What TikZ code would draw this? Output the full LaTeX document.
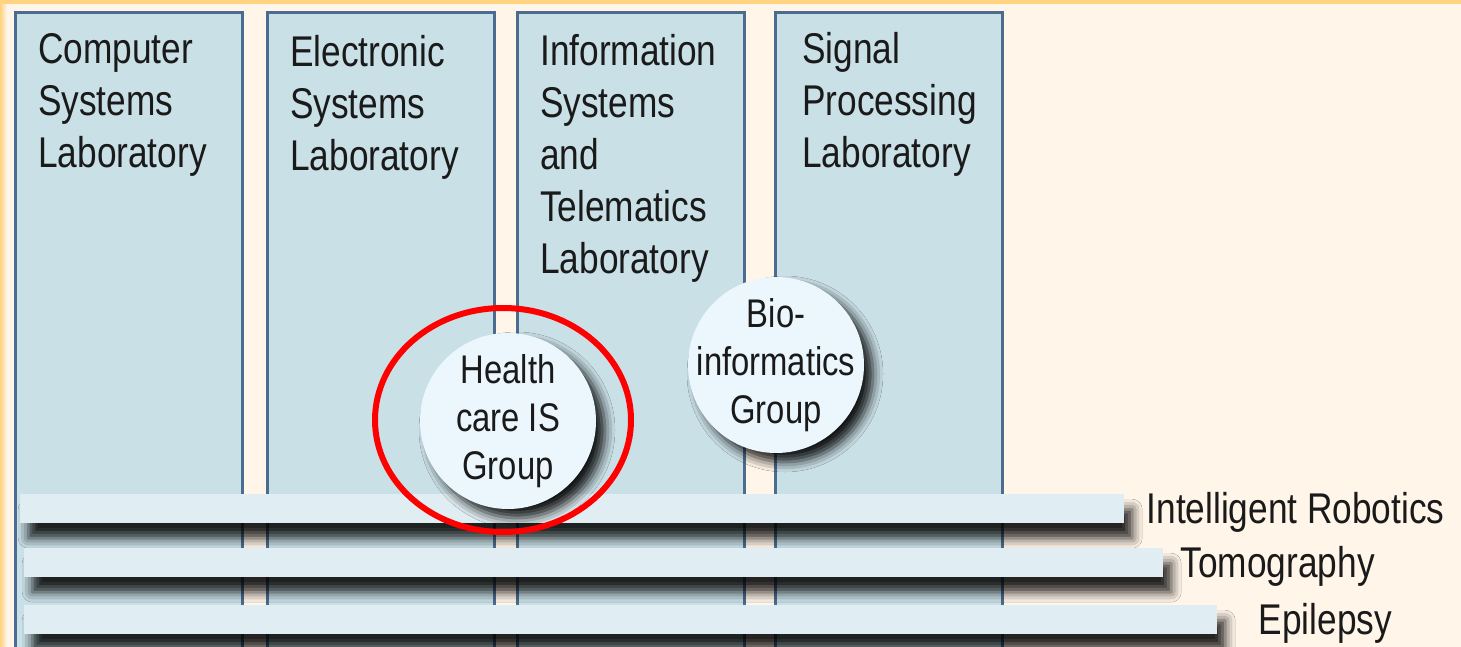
\documentclass[tikz,border=0pt]{standalone}
\usepackage{fontspec}
\setmainfont{Liberation Sans}[FakeStretch=0.82]
\usepackage{tikz}
\usetikzlibrary{positioning,shapes.geometric,shadows.blur}

\definecolor{cream}{HTML}{FFF5E9}
\definecolor{gold}{HTML}{FFD37F}
\definecolor{labfill}{HTML}{C9E0E6}
\definecolor{labedge}{HTML}{4B6C90}
\definecolor{barfill}{HTML}{E0EDF2}
\definecolor{groupfill}{HTML}{EBF7FC}
\definecolor{ink}{HTML}{1A1A1A}
\definecolor{hilite}{HTML}{FF0000}

\begin{document}
\begin{tikzpicture}[x=1pt,y=-1pt,
  lab/.style={draw=labedge, line width=3pt, fill=labfill, minimum width=227pt,
    minimum height=660pt, anchor=north west, inner sep=0pt},
  labname/.style={align=left, inner sep=0pt, text=ink,
    font=\fontsize{43}{52}\selectfont},
  theme/.style={fill=barfill, minimum height=29pt, anchor=north west, inner sep=0pt,
    blur shadow={shadow xshift=8pt, shadow yshift=-15pt, shadow blur radius=10pt,
      shadow opacity=85}},
  themename/.style={inner sep=0pt, text=ink, font=\fontsize{43}{50}\selectfont},
  group/.style={circle, fill=groupfill, minimum size=176pt, inner sep=0pt,
    blur shadow={shadow xshift=9pt, shadow yshift=-9pt, shadow blur radius=10pt,
      shadow opacity=90}},
  groupname/.style={align=center, inner sep=0pt, text=ink,
    font=\fontsize{40}{48}\selectfont},
]
\useasboundingbox (0,0) rectangle (1461,647);
\clip (0,0) rectangle (1461,647);
\fill[cream] (0,0) rectangle (1461,647);
\shade[left color=gold, right color=cream] (0,0) rectangle (7,647);
\fill[gold] (0,0) rectangle (1461,4);

% Nodes
% laboratories
\node[lab] (csl) at (14,11) {};
\node[lab] (esl) at (266,11) {};
\node[lab] (ist) at (516,11) {};
\node[lab] (spl) at (774,11) {};

\node[labname, below right=22pt and 24pt of csl.north west] (csln) {Computer\\Systems\\Laboratory};
\node[labname, below right=24pt and 24pt of esl.north west] (esln) {Electronic\\Systems\\Laboratory};
\node[labname, below right=23pt and 24pt of ist.north west] (istn) {Information\\Systems\\and\\Telematics\\Laboratory};
\node[labname, below right=21pt and 28pt of spl.north west] (spln) {Signal\\Processing\\Laboratory};

% research themes
\node[theme, minimum width=1104pt] (ir) at (20,494) {};
\node[theme, minimum width=1139pt] (tomo) at (24,548) {};
\node[theme, minimum width=1193pt] (epi) at (24,605) {};

\node[themename, right=22pt of ir.south east, anchor=base west] (irn) {Intelligent Robotics};
\node[themename, right=17pt of tomo.south east, anchor=base west] (tomon) {Tomography};
\node[themename, right=41pt of epi.south east, anchor=base west] (epin) {Epilepsy};

% groups
\node[group] (hcis) at (508,421) {};
\node[group] (bio) at (776,365) {};
\node[groupname] (hcisn) at (hcis) {Health\\care IS\\Group};
\node[groupname] (bion) at (bio) {Bio-\\informatics\\Group};

\node[ellipse, draw=hilite, line width=6pt, minimum width=256pt, minimum height=224pt,
  inner sep=0pt] (ring) at (503,420) {};

\end{tikzpicture}
\end{document}
